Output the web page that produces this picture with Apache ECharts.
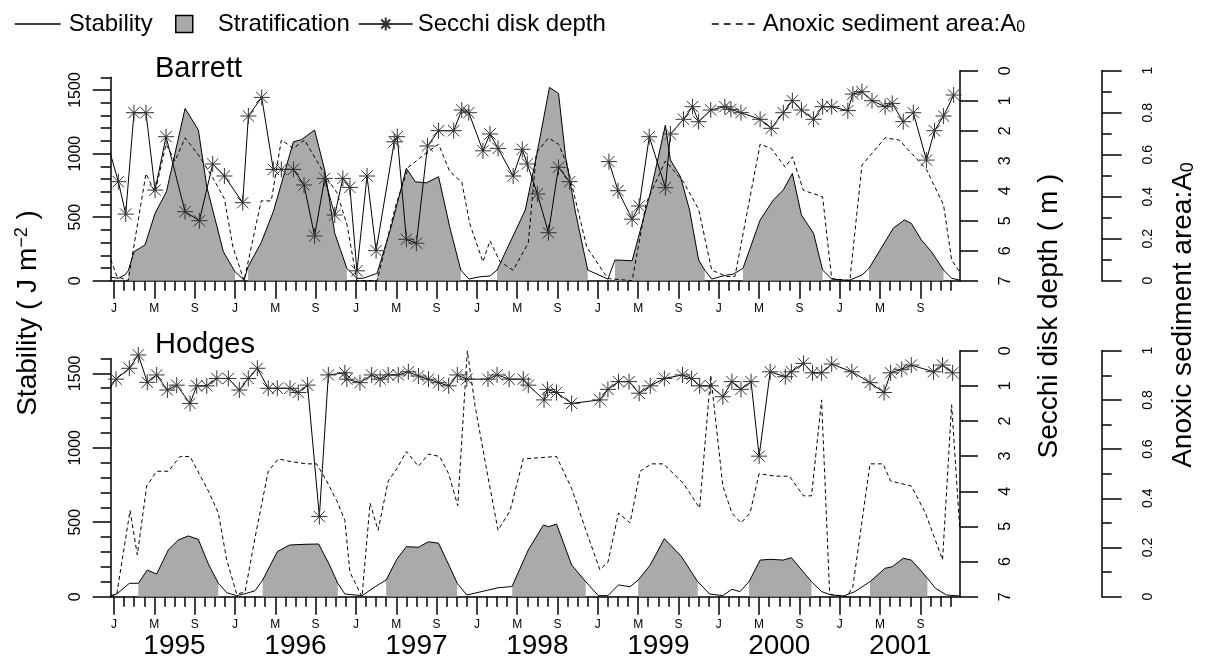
<!DOCTYPE html>
<html>
<head>
<meta charset="utf-8">
<script src="https://cdn.jsdelivr.net/npm/echarts@6/dist/echarts.min.js"></script>
<style>
html,body{margin:0;padding:0;background:#fff;}
#chart{width:1213px;height:666px;}
</style>
</head>
<body>
<div id="chart"></div>
<script>
// ---- tick labels ----
const monthLetters = ['J', 'M', 'S'];
const years = [1995, 1996, 1997, 1998, 1999, 2000, 2001];
const stabMinorTicks = [0,100,200,300,400,500,600,700,800,900,1000,1100,1200,1300,1400,1500,1600];
const stabMajorTicks = [0, 500, 1000, 1500];

// x values are months since Jan 1995 (0 = Jan 1995)
// ---- Barrett ----
const barrettStabMonth = [-0.33,0.43,1.09,1.42,1.98,3.08,4.07,5.2,7.05,8.37,9.2,10.85,12.0,12.9,13.3,14.6,15.8,17.8,18.6,19.9,20.9,21.9,23.1,24.1,24.7,26.1,27.5,29.0,29.9,31.0,32.2,33.3,34.4,35.2,36.3,37.3,38.0,40.8,41.9,43.2,44.1,44.8,45.8,47.0,49.0,49.7,51.4,53.2,54.7,55.2,56.2,57.1,58.0,58.6,59.3,60.8,61.4,62.4,64.1,65.4,66.4,67.3,68.2,69.4,70.3,71.2,72.4,73.0,74.2,74.9,76.0,77.3,78.4,79.1,80.1,81.1,82.3,83.1,83.9];
const barrettStability = [27,19,45,79,228,281,530,700,1355,1185,740,228,71,5,110,299,543,1093,1110,1185,870,373,97,19,19,58,425,884,778,770,818,425,84,13,31,37,84,556,975,1520,1473,975,530,84,13,163,157,688,1224,950,818,556,163,84,13,45,50,97,477,634,713,844,516,373,84,13,5,5,45,97,241,412,477,451,320,228,84,19,5];
const barrettStratified = [0,0,0,1,1,1,1,1,1,1,1,1,1,0,1,1,1,1,1,1,1,1,1,0,0,1,1,1,1,1,1,1,1,0,0,0,1,1,1,1,1,1,1,1,0,1,1,1,1,1,1,1,1,1,0,0,0,1,1,1,1,1,1,1,1,0,0,0,0,1,1,1,1,1,1,1,1,0,0];

const barrettSecchiMonth = [-0.6,0.43,1.16,1.98,3.17,4.07,5.16,7.05,8.47,9.79,10.95,12.77,13.33,14.65,15.8,16.6,17.8,18.85,19.9,20.9,21.9,22.7,23.4,24.1,25.1,26.0,27.8,28.1,29.0,30.0,31.1,32.2,33.7,34.5,35.2,36.6,37.3,38.1,39.6,40.5,41.0,42.0,43.1,44.1,45.2,47.0,49.1,50.0,51.4,52.1,53.1,54.7,55.2,56.5,57.4,58.0,59.2,60.6,61.2,62.2,64.1,65.2,66.4,67.3,68.2,69.4,70.3,71.2,72.8,73.3,74.2,75.2,76.5,77.2,78.3,79.3,80.6,81.4,82.3,83.3];
const barrettSecchi = [2.49,3.70,4.78,1.40,1.40,3.98,2.2,4.70,5.0,3.11,3.51,4.4,1.51,0.89,3.29,3.29,3.29,3.81,5.51,3.59,4.81,3.59,3.89,6.67,3.51,6.0,2.37,2.2,5.62,5.75,2.51,2.0,2.0,1.31,1.4,2.67,2.11,2.59,3.51,2.62,3.11,4.11,5.40,3.22,3.70,null,3.03,4.0,4.95,4.51,2.2,3.9,2.11,1.62,1.2,1.7,1.31,1.2,1.29,1.4,1.62,1.92,1.4,1.0,1.31,1.62,1.2,1.2,1.33,0.78,0.7,1.0,1.2,1.09,1.7,1.4,2.98,2.0,1.51,0.81];

const barrettAnoxMonth = [-0.33,0.3,1.4,3.17,4.07,5.16,6.05,7.05,8.5,9.8,10.95,11.8,12.9,14.6,15.6,16.6,17.8,18.9,21.1,22.1,23.1,24.1,26.1,27.9,29.2,31.0,32.2,33.3,34.5,35.3,36.6,37.3,38.3,39.6,41.1,41.9,43.1,44.1,44.9,45.8,46.9,49.0,51.4,52.8,54.7,56.5,58.0,59.3,60.8,61.6,64.1,65.2,66.6,67.3,68.4,70.3,71.2,73.0,74.2,76.5,77.9,80.6,82.3,83.1,83.9];
const barrettAnox = [0.10,0.02,0.0,0.51,0.42,0.65,0.57,0.68,0.59,0.49,0.39,0.16,0.0,0.38,0.38,0.67,0.63,0.67,0.49,0.42,0.27,0.0,0.0,0.35,0.54,0.61,0.65,0.52,0.47,0.27,0.09,0.19,0.09,0.05,0.18,0.61,0.68,0.65,0.56,0.38,0.16,0.01,0.0,0.37,0.57,0.47,0.34,0.05,0.02,0.02,0.65,0.63,0.54,0.59,0.43,0.40,0.01,0.0,0.55,0.68,0.67,0.53,0.36,0.10,0.04];

// ---- Hodges ----
const hodgesStabMonth = [-0.33,0.27,1.52,2.41,3.3,4.23,5.39,6.38,7.37,8.36,9.36,10.35,11.18,12.17,13.16,13.99,14.75,16.2,17.4,18.95,20.3,21.3,22.2,22.9,24.6,25.9,27.0,28.05,29.0,30.2,31.2,32.2,33.3,34.05,35.0,38.1,39.3,39.5,41.1,42.6,43.1,43.9,45.4,46.8,48.05,49.0,50.05,51.2,52.0,53.2,54.6,56.3,57.9,59.1,60.4,61.3,62.1,63.0,64.1,65.1,66.4,67.2,69.2,70.2,71.2,72.4,73.5,75.0,76.5,77.2,78.3,79.1,80.0,80.7,81.5,82.6,83.9];
const hodgesStability = [7,18,90,90,179,152,314,381,408,385,220,90,27,7,23,40,112,302,347,352,354,224,90,18,7,67,112,251,336,332,369,359,201,90,11,60,67,70,314,482,470,488,213,101,7,7,79,67,112,213,390,269,101,18,7,50,34,101,246,251,246,262,101,34,11,5,34,101,191,201,258,246,179,123,56,11,5];
const hodgesStratified = [0,0,0,1,1,1,1,1,1,1,1,1,0,0,0,0,1,1,1,1,1,1,1,0,0,0,1,1,1,1,1,1,1,1,0,0,0,1,1,1,1,1,1,1,0,0,0,0,1,1,1,1,1,0,0,0,0,1,1,1,1,1,1,0,0,0,0,1,1,1,1,1,1,1,0,0,0];

const hodgesSecchiMonth = [-0.6,0.2,1.52,2.41,3.3,4.23,5.29,6.22,7.54,8.2,9.2,10.2,11.34,12.43,13.32,14.22,15.3,16.2,17.46,18.28,19.2,20.37,21.26,22.9,23.1,24.4,25.56,26.4,27.2,28.2,29.2,30.2,31.2,32.2,33.2,34.06,35.0,37.1,38.0,39.2,40.6,41.1,42.66,43.0,43.9,45.4,48.2,49.0,50.05,51.1,52.1,53.2,54.6,56.4,57.3,58.1,59.2,60.4,61.3,62.2,63.2,64.0,65.1,66.6,67.2,68.4,69.3,70.2,71.2,73.2,75.0,76.4,77.05,78.15,79.1,81.3,82.2,83.2];
const hodgesSecchi = [1.13,0.81,0.50,0.12,0.90,0.69,1.12,0.98,1.50,1.0,1.0,0.79,0.79,1.12,0.79,0.50,1.07,1.07,1.07,1.19,0.98,4.72,0.69,0.63,0.81,0.91,0.69,0.81,0.69,0.69,0.60,0.72,0.81,0.91,1.0,0.69,0.81,0.81,0.69,0.81,0.81,0.98,1.40,1.10,1.19,1.50,1.40,1.10,0.88,0.88,1.21,1.0,0.79,0.69,0.79,1.0,1.0,1.31,0.88,1.10,0.88,3.0,0.60,0.74,0.60,0.36,0.63,0.63,0.38,0.60,0.91,1.19,0.63,0.53,0.41,0.60,0.41,0.63];

const hodgesAnoxMonth = [-0.33,0.27,1.59,2.31,3.24,4.23,5.39,6.55,7.54,9.36,10.35,11.18,12.17,13.0,13.99,15.3,16.3,17.46,19.1,20.1,21.1,22.1,22.9,23.4,24.6,25.4,26.2,27.2,28.05,29.0,30.2,31.2,32.3,33.2,34.1,35.05,35.8,36.95,38.1,39.3,40.6,43.9,45.4,46.9,48.2,49.0,50.05,51.2,52.2,53.3,54.5,56.5,58.1,59.2,60.4,61.3,62.2,63.1,64.0,65.6,67.0,68.4,69.2,70.2,71.0,72.7,73.3,75.0,76.3,77.05,79.1,80.5,82.2,83.1,83.9];
const hodgesAnox = [0.0,0.01,0.35,0.17,0.45,0.51,0.51,0.57,0.57,0.43,0.34,0.15,0.01,0.02,0.24,0.51,0.56,0.55,0.54,0.54,0.47,0.39,0.31,0.10,0.0,0.38,0.27,0.47,0.52,0.59,0.53,0.58,0.57,0.50,0.37,1.0,0.78,0.52,0.27,0.35,0.56,0.57,0.44,0.26,0.11,0.14,0.34,0.30,0.51,0.54,0.54,0.46,0.36,0.90,0.45,0.34,0.30,0.34,0.50,0.49,0.49,0.41,0.41,0.80,0.01,0.0,0.04,0.54,0.54,0.47,0.45,0.34,0.15,0.78,0.28];

// ---- layout constants ----
const XMIN = -0.33, XMAX = 83.93, YMAX = 1652;
const FONT = '"Liberation Sans", Arial, Helvetica, sans-serif';
const BLACK = '#000';
const FILL = '#aaaaaa';
const STAR = 'path://M10,0L10,20M0,10L20,10M2.93,2.93L17.07,17.07M2.93,17.07L17.07,2.93';

const monthTicks = []; for (let m = 0; m < 84; m++) monthTicks.push(m);
const jmsTicks = []; for (let m = 0; m < 84; m += 4) jmsTicks.push(m);
const yearTicks = years.map((y, i) => 6 + 12 * i);

function pairs(ms, vs) { return ms.map((m, i) => [m, vs[i] === null ? null : vs[i]]); }
function stratPairs(ms, vs, f) { return ms.map((m, i) => [m, f[i] ? vs[i] : null]); }

const axLine = { color: BLACK, width: 1.5 };
const panels = [ { top: 70.7, height: 210 }, { top: 350.7, height: 246 } ];
const grids = [];
panels.forEach(p => grids.push({ left: 110.7, width: 849.3, top: p.top, height: p.height }));
// grids that carry only the left axis (0..1600), same scale as the data grids
panels.forEach(p => {
  const h = p.height * 1600 / YMAX;
  grids.push({ left: 110.7, width: 849.3, top: p.top + p.height - h, height: h });
});

const xAxes = [];
const yAxes = [];
[0, 1].forEach(g => {
  xAxes.push({ type: 'value', gridIndex: g, min: XMIN, max: XMAX, position: 'bottom',
    axisLine: { show: true, onZero: false, lineStyle: axLine },
    axisTick: { show: true, customValues: monthTicks, length: 10, lineStyle: axLine },
    axisLabel: { show: false }, splitLine: { show: false } });
  xAxes.push({ type: 'value', gridIndex: g, min: XMIN, max: XMAX, position: 'bottom',
    axisLine: { show: false, onZero: false },
    axisTick: { show: true, customValues: jmsTicks, length: 18, lineStyle: axLine },
    axisLabel: { show: true, customValues: jmsTicks, margin: 22, fontSize: 12, color: BLACK, fontFamily: FONT,
      formatter: v => monthLetters[Math.round(v / 4) % 3] },
    splitLine: { show: false } });
  // data axes of panel g: stability (hidden), secchi, anoxic
  yAxes.push({ type: 'value', gridIndex: g, min: 0, max: YMAX, position: 'left', show: false,
    axisLine: { show: false, onZero: false }, axisTick: { show: false }, axisLabel: { show: false }, splitLine: { show: false } });
  yAxes.push({ type: 'value', gridIndex: g, min: 0, max: 7, interval: 1, inverse: true, position: 'right',
    axisLine: { show: true, onZero: false, lineStyle: axLine },
    axisTick: { show: true, length: 18, lineStyle: axLine },
    axisLabel: { show: true, rotate: 90, margin: 38, fontSize: 16, color: BLACK, fontFamily: FONT },
    splitLine: { show: false } });
  yAxes.push({ type: 'value', gridIndex: g, min: 0, max: 1, interval: 0.2, position: 'right', offset: 141.7,
    axisLine: { show: true, onZero: false, lineStyle: axLine },
    axisTick: { show: true, length: 20, lineStyle: axLine },
    minorTick: { show: true, splitNumber: 2, length: 10, lineStyle: axLine },
    axisLabel: { show: true, rotate: 90, margin: 39, fontSize: 14, color: BLACK, fontFamily: FONT },
    splitLine: { show: false }, minorSplitLine: { show: false } });
});
// year labels under bottom panel (xAxis index 4)
xAxes.push({ type: 'value', gridIndex: 1, min: XMIN, max: XMAX, position: 'bottom',
  axisLine: { show: false, onZero: false }, axisTick: { show: false },
  axisLabel: { show: true, customValues: yearTicks, margin: 36, fontSize: 28, color: BLACK, fontFamily: FONT,
    formatter: v => String(years[Math.round((v - 6) / 12)]) },
  splitLine: { show: false } });
// left stability axes drawn in grids 2 and 3
[2, 3].forEach(g => {
  xAxes.push({ type: 'value', gridIndex: g, min: XMIN, max: XMAX, show: false });
  yAxes.push({ type: 'value', gridIndex: g, min: 0, max: 1600, position: 'left',
    axisLine: { show: true, onZero: false, lineStyle: axLine },
    axisTick: { show: true, customValues: stabMinorTicks, length: 10, lineStyle: axLine },
    axisLabel: { show: false }, splitLine: { show: false } });
  yAxes.push({ type: 'value', gridIndex: g, min: 0, max: 1600, position: 'left',
    axisLine: { show: false, onZero: false },
    axisTick: { show: true, customValues: stabMajorTicks, length: 18, lineStyle: axLine },
    axisLabel: { show: true, customValues: stabMajorTicks, rotate: 90, margin: 27, fontSize: 16, color: BLACK, fontFamily: FONT,
      formatter: v => String(v) },
    splitLine: { show: false } });
});

function panelSeries(g, stabM, stab, strat, secM, sec, anM, an) {
  const xi = g * 2, yb = g * 3;
  return [
    { name: 'Stratification', type: 'line', xAxisIndex: xi, yAxisIndex: yb, data: stratPairs(stabM, stab, strat),
      symbol: 'none', connectNulls: false, color: FILL, itemStyle: { color: FILL },
      lineStyle: { width: 0, color: FILL }, areaStyle: { color: FILL, opacity: 1 }, z: 1, silent: true },
    { name: 'Stability', type: 'line', xAxisIndex: xi, yAxisIndex: yb, data: pairs(stabM, stab),
      symbol: 'none', color: BLACK, lineStyle: { width: 1, color: BLACK }, z: 2 },
    { name: 'Anoxic sediment area:A0', type: 'line', xAxisIndex: xi, yAxisIndex: yb + 2, data: pairs(anM, an),
      symbol: 'none', color: BLACK, lineStyle: { width: 1, color: BLACK, type: [4, 3] }, z: 3 },
    { name: 'Secchi disk depth', type: 'line', xAxisIndex: xi, yAxisIndex: yb + 1, data: pairs(secM, sec),
      symbol: STAR, symbolSize: 16, showAllSymbol: true, connectNulls: false, clip: true, color: BLACK,
      itemStyle: { color: '#333', borderColor: '#333', borderWidth: 1 },
      lineStyle: { width: 1, color: BLACK }, z: 4 }
  ];
}

const series = [].concat(
  panelSeries(0, barrettStabMonth, barrettStability, barrettStratified, barrettSecchiMonth, barrettSecchi, barrettAnoxMonth, barrettAnox),
  panelSeries(1, hodgesStabMonth, hodgesStability, hodgesStratified, hodgesSecchiMonth, hodgesSecchi, hodgesAnoxMonth, hodgesAnox)
);

const legendText = { fontSize: 24, color: BLACK, fontFamily: FONT };
const option = {
  backgroundColor: '#fff',
  animation: false,
  textStyle: { fontFamily: FONT },
  title: [
    { text: 'Barrett', left: 155, top: 54, padding: 0, textStyle: { fontSize: 29, fontWeight: 'normal', color: BLACK, fontFamily: FONT } },
    { text: 'Hodges', left: 155, top: 330, padding: 0, textStyle: { fontSize: 29, fontWeight: 'normal', color: BLACK, fontFamily: FONT } }
  ],
  legend: [
    { data: [{ name: 'Stability', itemStyle: { opacity: 0 } }], left: 14, top: 12, padding: 0, itemWidth: 46, itemHeight: 14, selectedMode: false,
      lineStyle: { width: 1.5, color: BLACK }, textStyle: Object.assign({ padding: [0, 0, 0, 3] }, legendText) },
    { data: [{ name: 'Stratification', icon: 'rect', itemStyle: { color: FILL, borderColor: BLACK, borderWidth: 1.5 } }],
      left: 175, top: 12, padding: 0, itemWidth: 17, itemHeight: 17, selectedMode: false,
      textStyle: Object.assign({ padding: [0, 0, 0, 20] }, legendText) },
    { data: ['Secchi disk depth'], left: 358, top: 12, padding: 0, itemWidth: 54, itemHeight: 16, selectedMode: false,
      lineStyle: { width: 1.5, color: BLACK }, textStyle: legendText },
    { data: [{ name: 'Anoxic sediment area:A0', itemStyle: { opacity: 0 } }], left: 711, top: 12, padding: 0, itemWidth: 46, itemHeight: 14, selectedMode: false,
      lineStyle: { width: 1.5, color: BLACK, type: [7, 5] },
      formatter: () => '{a|Anoxic sediment area:A}{s|0}',
      textStyle: Object.assign({ rich: { a: { fontSize: 24, fontFamily: FONT, color: BLACK }, s: { fontSize: 16, fontFamily: FONT, color: BLACK, verticalAlign: 'bottom', padding: [8, 0, 0, 0] } } }, legendText) }
  ],
  grid: grids,
  xAxis: xAxes,
  yAxis: yAxes,
  graphic: [
    { type: 'text', x: 28, y: 313, rotation: Math.PI / 2,
      style: { text: '{a|Stability ( J m}{s|−2}{a| )}', align: 'center', verticalAlign: 'middle',
        rich: { a: { fontSize: 28, fontFamily: FONT, fill: BLACK }, s: { fontSize: 18, fontFamily: FONT, fill: BLACK, padding: [0, 0, 12, 0] } } } },
    { type: 'text', x: 1049, y: 316, rotation: Math.PI / 2,
      style: { text: 'Secchi disk depth ( m )', align: 'center', verticalAlign: 'middle', fontSize: 28, fontFamily: FONT, fill: BLACK } },
    { type: 'text', x: 1183, y: 315, rotation: Math.PI / 2,
      style: { text: '{a|Anoxic sediment area:A}{s|0}', align: 'center', verticalAlign: 'middle',
        rich: { a: { fontSize: 28, fontFamily: FONT, fill: BLACK }, s: { fontSize: 18, fontFamily: FONT, fill: BLACK, padding: [10, 0, 0, 0] } } } }
  ],
  series: series
};

const chart = echarts.init(document.getElementById('chart'), null, { renderer: 'canvas' });
chart.setOption(option);
</script>
</body>
</html>
